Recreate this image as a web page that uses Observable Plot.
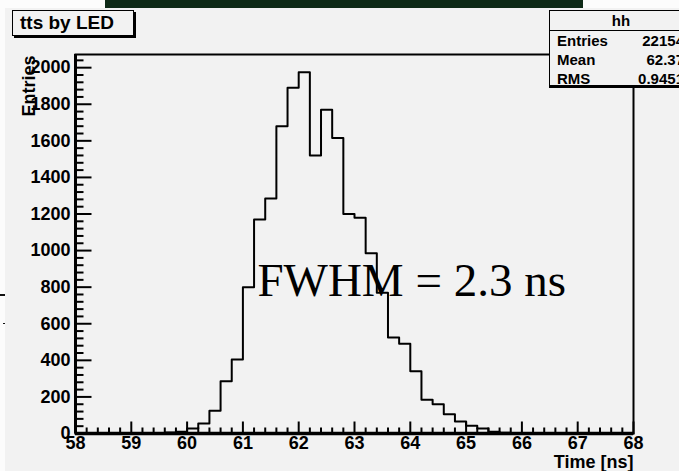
<!DOCTYPE html>
<html>
<head>
<meta charset="utf-8">
<script src="https://cdn.jsdelivr.net/npm/d3@7"></script>
<script src="https://cdn.jsdelivr.net/npm/@observablehq/plot@0.6"></script>
<style>
  html, body { margin: 0; padding: 0; background: #fcfcfc; overflow: hidden; }
  #wrap { position: relative; width: 679px; height: 471px; overflow: hidden; font-family: "Liberation Sans", Arial, sans-serif; }
  #wrap svg { position: absolute; left: 0; top: 0; }
  .deco { position: absolute; }
  #ttl { position: absolute; left: 12px; top: 10px; height: 24px; width: 113px; border: 1px solid #000; box-shadow: 2px 2px 0 #000; background: #f2f2f2; font-weight: bold; font-size: 19px; line-height: 24px; padding-left: 7px; box-sizing: content-box; }
  #stb { position: absolute; left: 549px; top: 10px; width: 142px; height: 74px; border: 1px solid #000; box-shadow: 0 2px 0 #000; background: #f2f2f2; font-weight: bold; font-size: 15px; }
  #stb .hd { height: 19px; line-height: 19px; text-align: center; border-bottom: 1px solid #000; }
  #stb .row { position: relative; height: 18px; line-height: 18px; margin-top: 1px; }
  #stb .row .k { position: absolute; left: 7px; }
  #stb .row .v { position: absolute; right: 8px; }
</style>
</head>
<body>
<div id="wrap"></div>
<script>
// ---- data ----
const binLow = [58.0, 58.2, 58.4, 58.6, 58.8, 59.0, 59.2, 59.4, 59.6, 59.8,
                60.0, 60.2, 60.4, 60.6, 60.8, 61.0, 61.2, 61.4, 61.6, 61.8,
                62.0, 62.2, 62.4, 62.6, 62.8, 63.0, 63.2, 63.4, 63.6, 63.8,
                64.0, 64.2, 64.4, 64.6, 64.8, 65.0, 65.2, 65.4, 65.6, 65.8,
                66.0, 66.2, 66.4, 66.6, 66.8, 67.0, 67.2, 67.4, 67.6, 67.8];
const counts = [0, 1, 1, 2, 1, 2, 3, 3, 5, 10,
                27, 55, 125, 285, 405, 800, 1170, 1285, 1680, 1890,
                1975, 1520, 1770, 1615, 1200, 1180, 985, 770, 525, 490,
                340, 185, 160, 105, 65, 43, 27, 10, 4, 3,
                2, 1, 1, 1, 0, 1, 0, 0, 0, 0];
const binWidth = 0.2;
const xTickLabels = [58, 59, 60, 61, 62, 63, 64, 65, 66, 67, 68];
const yTickLabels = [0, 200, 400, 600, 800, 1000, 1200, 1400, 1600, 1800, 2000];
const statNames = ["Entries", "Mean", "RMS"];
const statValues = ["22154", "62.37", "0.9451"];
const histName = "hh";
const titleText = "tts by LED";
const xTitle = "Time [ns]";
const yTitle = "Entries";
const noteText = "FWHM = 2.3 ns";

// ---- derived ----
const steps = [];
binLow.forEach((t, i) => {
  steps.push({t: t, n: counts[i]});
  steps.push({t: +(t + binWidth).toFixed(3), n: counts[i]});
});
const xMinor = d3.range(58, 68.001, 0.2).map(v => +v.toFixed(2)).filter(v => Math.abs(v - Math.round(v)) > 1e-6);
const yMinor = d3.range(0, 2041, 40).filter(v => v % 200 !== 0);

const W = 679, H = 471;
const mL = 75, mR = 46, mT = 54, mB = 38;
const plotW = W - mL - mR, plotH = H - mT - mB;
const xDom = [58, 68], yDom = [0, 2072];
const pxX = (xDom[1] - xDom[0]) / plotW;
const pxY = (yDom[1] - yDom[0]) / plotH;
const noteAt = [{x: 61.26, y: 749, label: noteText}];

// tick segments in data space (inward ticks, ROOT style)
const ySegs = yTickLabels.map(v => ({x1: xDom[0], x2: xDom[0] + 16 * pxX, y: v}))
  .concat(yMinor.map(v => ({x1: xDom[0], x2: xDom[0] + 8 * pxX, y: v})));
const xSegs = xTickLabels.map(v => ({x: v, y1: yDom[0], y2: yDom[0] + 12 * pxY}))
  .concat(xMinor.map(v => ({x: v, y1: yDom[0], y2: yDom[0] + 6 * pxY})));

const chart = Plot.plot({
  width: W, height: H,
  marginLeft: mL, marginRight: mR, marginTop: mT, marginBottom: mB,
  x: {domain: xDom, axis: null},
  y: {domain: yDom, axis: null},
  style: {background: "#f2f2f2", fontFamily: "'Liberation Sans', Arial, sans-serif", fontSize: "18px", fontWeight: "bold", color: "black"},
  marks: [
    Plot.frame({stroke: "black", strokeWidth: 2}),
    Plot.line(steps, {x: "t", y: "n", stroke: "black", strokeWidth: 2}),
    Plot.link(ySegs, {x1: "x1", x2: "x2", y1: "y", y2: "y", stroke: "black", strokeWidth: 2}),
    Plot.link(xSegs, {x1: "x", x2: "x", y1: "y1", y2: "y2", stroke: "black", strokeWidth: 2}),
    Plot.ruleX([xDom[0]], {stroke: "black", strokeWidth: 3}),
    Plot.ruleY([yDom[0]], {stroke: "black", strokeWidth: 3.5}),
    Plot.axisY({ticks: yTickLabels, tickSize: 0, tickPadding: 5, label: null, tickFormat: d => String(d), fontSize: 18, fontWeight: "bold"}),
    Plot.axisX({ticks: xTickLabels, tickSize: 0, tickPadding: 3, label: null, tickFormat: d => String(d), fontSize: 18, fontWeight: "bold"}),
    Plot.text([xTitle], {frameAnchor: "bottom-right", textAnchor: "end", lineAnchor: "bottom", dy: 34, fontSize: 18, fontWeight: "bold", fill: "black"}),
    Plot.text([yTitle], {frameAnchor: "top-left", textAnchor: "end", lineAnchor: "middle", rotate: -90, dx: -46.5, dy: 1, fontSize: 18, fontWeight: "bold", fill: "black"}),
    Plot.text(noteAt, {x: "x", y: "y", text: "label", textAnchor: "start", lineAnchor: "bottom", fontFamily: "'Liberation Serif', 'Times New Roman', serif", fontSize: 47, fontWeight: "normal", fill: "black"})
  ]
});

const wrap = document.getElementById("wrap");
wrap.appendChild(chart);

function addBox(l, t, w, h, bg) {
  const d = document.createElement("div");
  d.className = "deco";
  Object.assign(d.style, {left: l + "px", top: t + "px", width: w + "px", height: h + "px", background: bg});
  wrap.appendChild(d);
}
addBox(0, 0, 679, 8, "#fcfcfc");
addBox(105, 0, 478, 8, "#0e2a17");
addBox(0, 0, 5, 471, "#fcfcfc");
addBox(0, 294, 5, 2, "#111");
addBox(3, 323, 2, 1, "#111");

const ttl = document.createElement("div");
ttl.id = "ttl";
ttl.textContent = titleText;
wrap.appendChild(ttl);

const stb = document.createElement("div");
stb.id = "stb";
const hd = document.createElement("div");
hd.className = "hd";
hd.textContent = histName;
stb.appendChild(hd);
statNames.forEach((k, i) => {
  const r = document.createElement("div");
  r.className = "row";
  const a = document.createElement("span"); a.className = "k"; a.textContent = k;
  const b = document.createElement("span"); b.className = "v"; b.textContent = statValues[i];
  r.appendChild(a); r.appendChild(b);
  stb.appendChild(r);
});
wrap.appendChild(stb);
</script>
</body>
</html>
